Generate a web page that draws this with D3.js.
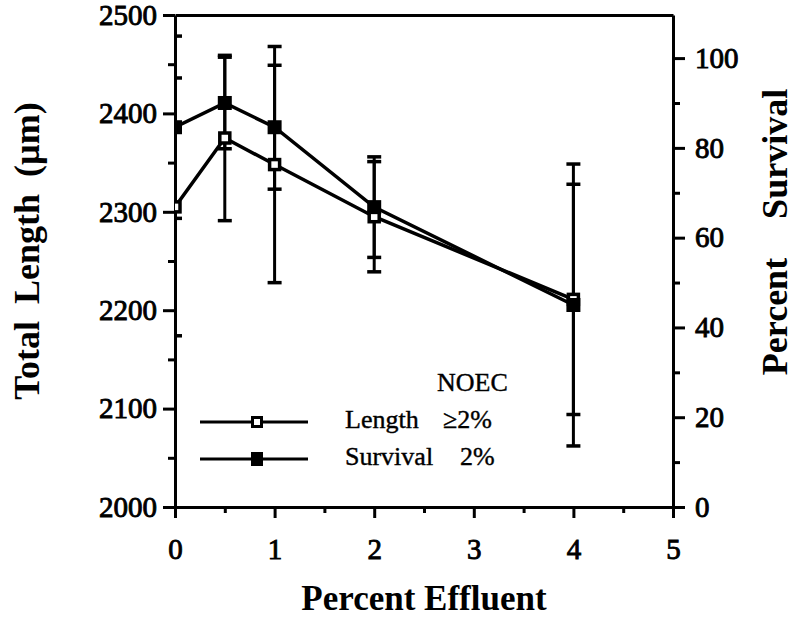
<!DOCTYPE html>
<html>
<head>
<meta charset="utf-8">
<script src="https://cdn.jsdelivr.net/npm/d3@7"></script>
<style>
  html, body { margin: 0; padding: 0; background: #fff; }
  svg { display: block; }
  svg text { font-family: "Times New Roman", "Liberation Serif", Tinos, "DejaVu Serif", serif !important; fill: #000; }
</style>
</head>
<body>
<svg id="chart" width="797" height="620"></svg>
<script>
// ---- data ----
const effluent = [0, 0.5, 1, 2, 4];
const lengthMean = [2305, 2375, 2348, 2295, 2211];
const lengthErr = [131, 84, 120, 56, 117];
const survivalMean = [84.6, 90.0, 84.6, 66.8, 45.0];
const survivalErr = [20.3, 10.2, 13.8, 11.2, 31.4];

const xTicks = [0, 1, 2, 3, 4, 5];
const xMinorTicks = [0.5, 1.5, 2.5, 3.5, 4.5];
const lengthTicks = [2000, 2100, 2200, 2300, 2400, 2500];
const lengthMinorTicks = [2050, 2150, 2250, 2350, 2450];
const survivalTicks = [0, 20, 40, 60, 80, 100];
const survivalMinorTicks = [10, 30, 50, 70, 90];

const legendItems = [
  { label: "Length", noec: "\u22652%", filled: false },
  { label: "Survival", noec: "2%", filled: true }
];

// ---- layout ----
const L = 175, R = 673, T = 15, B = 507;
const svg = d3.select("#chart");

const x = d3.scaleLinear().domain([0, 5]).range([L, R]);
const yL = d3.scaleLinear().domain([2000, 2500]).range([B, T]);
const yR = d3.scaleLinear().domain([0, 109.6]).range([B, T]);

function styleAxis(g) {
  g.attr("font-family", null);
  g.selectAll(".domain").attr("stroke", "#000").attr("stroke-width", 3);
  g.selectAll(".tick line").attr("stroke", "#000").attr("stroke-width", 3);
  g.selectAll(".tick text")
    .attr("font-size", 29)
    .attr("fill", "#000")
    .attr("stroke", "#000")
    .attr("stroke-width", 0.9);
}

// minor ticks first
svg.append("g").attr("transform", `translate(${L},0)`)
  .call(d3.axisLeft(yL).tickValues(lengthMinorTicks).tickSize(7).tickFormat(""))
  .call(g => g.select(".domain").remove()).call(styleAxis);
svg.append("g").attr("transform", `translate(${R},0)`)
  .call(d3.axisRight(yR).tickValues(survivalMinorTicks).tickSize(7).tickFormat(""))
  .call(g => g.select(".domain").remove()).call(styleAxis);
svg.append("g").attr("transform", `translate(0,${B})`)
  .call(d3.axisBottom(x).tickValues(xMinorTicks).tickSize(6).tickFormat(""))
  .call(g => g.select(".domain").remove()).call(styleAxis);

// major axes
svg.append("g").attr("transform", `translate(${L},0)`)
  .call(d3.axisLeft(yL).tickValues(lengthTicks).tickSize(12).tickSizeOuter(0).tickPadding(6).tickFormat(d3.format("d")))
  .call(styleAxis);
svg.append("g").attr("transform", `translate(${R},0)`)
  .call(d3.axisRight(yR).tickValues(survivalTicks).tickSize(12).tickSizeOuter(0).tickPadding(10).tickFormat(d3.format("d")))
  .call(styleAxis);
svg.append("g").attr("transform", `translate(0,${B})`)
  .call(d3.axisBottom(x).tickValues(xTicks).tickSize(11).tickSizeOuter(0).tickPadding(20).tickFormat(d3.format("d")))
  .call(styleAxis);
svg.append("g").attr("transform", `translate(0,${T})`)
  .call(d3.axisTop(x).tickValues([]).tickSizeOuter(0))
  .call(styleAxis);

// clip to plot area
svg.append("defs").append("clipPath").attr("id", "plotclip")
  .append("rect").attr("x", L).attr("y", 0).attr("width", R - L).attr("height", B);

const plot = svg.append("g").attr("clip-path", "url(#plotclip)");

const lenData = effluent.map((e, i) => ({ x: e, y: lengthMean[i], err: lengthErr[i] }));
const survData = effluent.map((e, i) => ({ x: e, y: survivalMean[i], err: survivalErr[i] }));

function errorBars(data, yScale) {
  const g = plot.append("g").attr("stroke", "#000");
  g.selectAll("line.v").data(data).join("line").attr("class", "v")
    .attr("x1", d => x(d.x)).attr("x2", d => x(d.x))
    .attr("y1", d => yScale(d.y - d.err)).attr("y2", d => yScale(d.y + d.err))
    .attr("stroke-width", 3);
  const caps = data.flatMap(d => [{ x: d.x, y: d.y - d.err }, { x: d.x, y: d.y + d.err }]);
  g.selectAll("line.c").data(caps).join("line").attr("class", "c")
    .attr("x1", d => x(d.x) - 7).attr("x2", d => x(d.x) + 7)
    .attr("y1", d => yScale(d.y)).attr("y2", d => yScale(d.y))
    .attr("stroke-width", 3.5);
}
errorBars(lenData, yL);
errorBars(survData, yR);

const lineL = d3.line().x(d => x(d.x)).y(d => yL(d.y));
const lineR = d3.line().x(d => x(d.x)).y(d => yR(d.y));
plot.append("path").datum(lenData).attr("d", lineL)
  .attr("fill", "none").attr("stroke", "#000").attr("stroke-width", 3.5);
plot.append("path").datum(survData).attr("d", lineR)
  .attr("fill", "none").attr("stroke", "#000").attr("stroke-width", 3.5);

// markers
plot.selectAll("rect.len").data(lenData).join("rect").attr("class", "len")
  .attr("x", d => x(d.x) - 5).attr("y", d => yL(d.y) - 5)
  .attr("width", 10).attr("height", 10)
  .attr("fill", "#fff").attr("stroke", "#000").attr("stroke-width", 3.5);
plot.selectAll("rect.surv").data(survData).join("rect").attr("class", "surv")
  .attr("x", d => x(d.x) - 7).attr("y", d => yR(d.y) - 7)
  .attr("width", 14).attr("height", 14)
  .attr("fill", "#000");

// legend
const lg = svg.append("g");
lg.append("text").attr("x", 437).attr("y", 391).attr("font-size", 26)
  .attr("stroke", "#000").attr("stroke-width", 0.4).text("NOEC");
legendItems.forEach((it, i) => {
  const yy = 422 + i * 37;
  lg.append("line").attr("x1", 200).attr("x2", 308).attr("y1", yy).attr("y2", yy)
    .attr("stroke", "#000").attr("stroke-width", 3);
  if (it.filled) {
    lg.append("rect").attr("x", 251).attr("y", yy - 7).attr("width", 12).attr("height", 14).attr("fill", "#000");
  } else {
    lg.append("rect").attr("x", 252.5).attr("y", yy - 4.5).attr("width", 9).attr("height", 9)
      .attr("fill", "#fff").attr("stroke", "#000").attr("stroke-width", 3);
  }
  lg.append("text").attr("x", 345).attr("y", yy + 6).attr("font-size", 26)
    .attr("stroke", "#000").attr("stroke-width", 0.4).text(it.label);
  lg.append("text").attr("x", it.filled ? 460 : 443).attr("y", yy + 6).attr("font-size", 26)
    .attr("stroke", "#000").attr("stroke-width", 0.4).text(it.noec);
});

// axis titles
svg.append("text")
  .attr("transform", "translate(39,251) rotate(-90)")
  .attr("text-anchor", "middle").attr("font-size", 36).attr("font-weight", "bold")
  .style("word-spacing", "8px")
  .text("Total Length (\u00b5m)");
svg.append("text")
  .attr("transform", "translate(787,232) rotate(-90)")
  .attr("text-anchor", "middle").attr("font-size", 36).attr("font-weight", "bold")
  .style("word-spacing", "30px")
  .text("Percent Survival");
svg.append("text")
  .attr("x", 424).attr("y", 610)
  .attr("text-anchor", "middle").attr("font-size", 35).attr("font-weight", "bold")
  .text("Percent Effluent");
</script>
</body>
</html>
